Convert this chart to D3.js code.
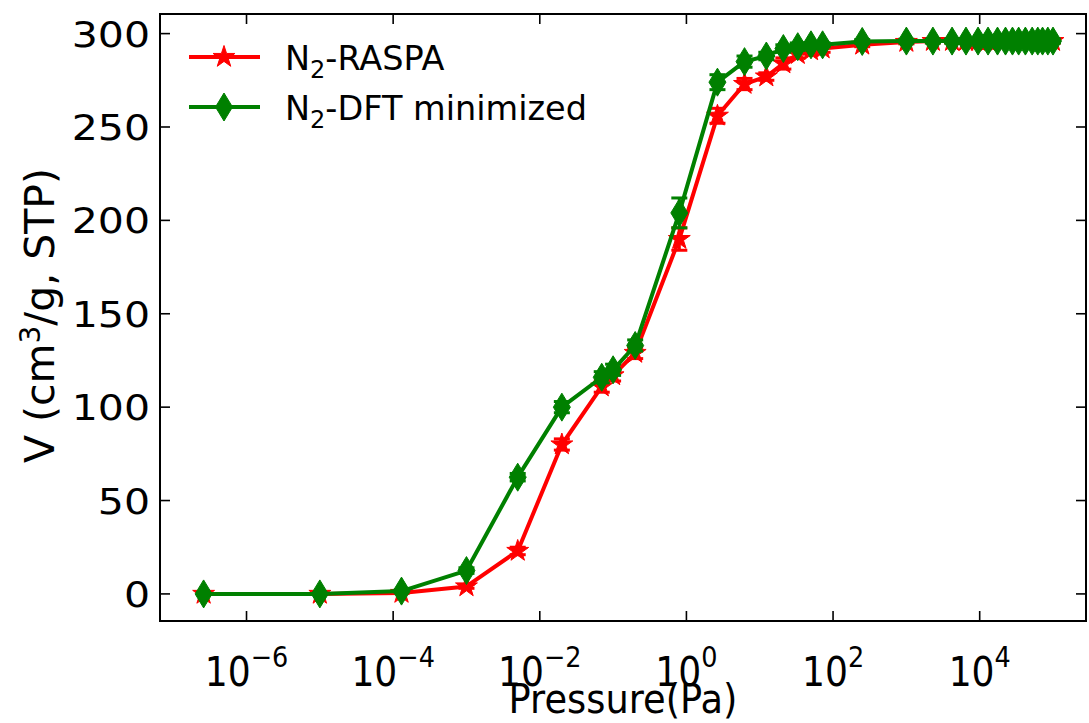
<!DOCTYPE html>
<html>
<head>
<meta charset="utf-8">
<script src="https://d3js.org/d3.v7.min.js"></script>
<style>
html,body{margin:0;padding:0;background:#fff;}
svg{display:block;}
text{font-family:"DejaVu Sans",sans-serif;fill:#000;}
</style>
</head>
<body>
<svg id="chart" width="1089" height="723"></svg>
<script>
// ---- data ----
const pressure = [2.6e-7, 1e-5, 1.3e-4, 1e-3, 5e-3, 2e-2, 7e-2, 1e-1, 2e-1, 8e-1, 2.65, 6.2, 12.3, 21, 33, 50, 72,
  250, 1000, 2300, 4200, 6500, 9500, 13000, 17500, 22500, 28000, 34000, 42000, 52000, 62000, 72000, 85000, 100000];
const raspaV = [0, 0, 0.5, 4, 23, 80, 111, 117, 129, 190, 256, 273, 277, 284, 289, 291, 292,
  294, 295.5, 296, 296, 296, 296, 296, 296, 296, 296, 296, 296, 296, 296, 296, 296, 296];
const raspaErr = [0, 0, 0.3, 1, 2, 3, 3, 3, 3, 6, 4, 3, 2, 3, 2, 2, 2,
  1, 1, 1, 1, 1, 1, 1, 1, 1, 1, 1, 1, 1, 1, 1, 1, 1];
const dftV = [0, 0, 1.5, 12.5, 62.5, 100, 116, 120, 133, 204, 274, 285, 288, 292, 293, 294, 294,
  295.8, 296, 296, 296, 296, 296, 296, 296, 296, 296, 296, 296, 296, 296, 296, 296, 296];
const dftErr = [0, 0, 0.5, 1.5, 2, 3, 3, 3, 3, 8, 4, 3, 2, 2, 2, 1, 1,
  1, 1, 1, 1, 1, 1, 1, 1, 1, 1, 1, 1, 1, 1, 1, 1, 1];
const xTickExps = [-6, -4, -2, 0, 2, 4];
const yTicks = [0, 50, 100, 150, 200, 250, 300];
const seriesNames = ["N2-RASPA", "N2-DFT minimized"];
const seriesColors = ["#ff0000", "#008000"];

// ---- layout ----
const L = 160, R = 1086, T = 14, B = 621;
const svg = d3.select("#chart");
const x = d3.scaleLog().domain([Math.pow(10, -7.18), Math.pow(10, 5.45)]).range([L, R]);
const y = d3.scaleLinear().domain([-14.5, 310.5]).range([B, T]);

const series = [
  {name: seriesNames[0], v: raspaV, e: raspaErr, color: seriesColors[0], marker: "star"},
  {name: seriesNames[1], v: dftV, e: dftErr, color: seriesColors[1], marker: "diamond"}
];

function starPath(Ro) {
  const Ri = Ro * 0.382;
  const pts = [];
  for (let i = 0; i < 10; i++) {
    const r = i % 2 === 0 ? Ro : Ri;
    const a = -Math.PI / 2 + i * Math.PI / 5;
    pts.push([r * Math.cos(a), r * Math.sin(a)]);
  }
  return "M" + pts.map(p => p[0].toFixed(2) + "," + p[1].toFixed(2)).join("L") + "Z";
}
function diamondPath(w, h) {
  return `M0,${-h/2}L${w/2},0L0,${h/2}L${-w/2},0Z`;
}
const markerPath = {star: starPath(11.5), diamond: diamondPath(17, 28)};

const plot = svg.append("g");
const line = d3.line().x((d, i) => x(pressure[i])).y(d => y(d));

series.forEach(s => {
  const g = plot.append("g");
  g.append("path").attr("d", line(s.v)).attr("fill", "none")
    .attr("stroke", s.color).attr("stroke-width", 4).attr("stroke-linejoin", "round");
  const eb = g.append("g").attr("stroke", s.color).attr("stroke-width", 3);
  s.v.forEach((v, i) => {
    if (s.e[i] <= 0) return;
    const px = x(pressure[i]);
    eb.append("line").attr("x1", px).attr("x2", px).attr("y1", y(v - s.e[i])).attr("y2", y(v + s.e[i]));
    [v - s.e[i], v + s.e[i]].forEach(c => {
      eb.append("line").attr("x1", px - 8).attr("x2", px + 8).attr("y1", y(c)).attr("y2", y(c));
    });
  });
  g.selectAll("path.m").data(s.v).enter().append("path").attr("class", "m")
    .attr("d", markerPath[s.marker])
    .attr("transform", (d, i) => `translate(${x(pressure[i])},${y(d)})`)
    .attr("fill", s.color).attr("stroke", s.color).attr("stroke-width", 1);
});

// ---- frame & ticks ----
const axes = svg.append("g");
axes.append("rect").attr("x", L).attr("y", T).attr("width", R - L).attr("height", B - T)
  .attr("fill", "none").attr("stroke", "#000").attr("stroke-width", 2);
const tickLen = 10;
xTickExps.forEach(e => {
  const px = x(Math.pow(10, e));
  axes.append("line").attr("x1", px).attr("x2", px).attr("y1", B).attr("y2", B - tickLen).attr("stroke", "#000").attr("stroke-width", 1.6);
  axes.append("line").attr("x1", px).attr("x2", px).attr("y1", T).attr("y2", T + tickLen).attr("stroke", "#000").attr("stroke-width", 1.6);
  const t = axes.append("text").attr("transform", `translate(${px},686) scale(0.88,1)`)
    .attr("text-anchor", "middle").attr("font-size", 41);
  t.append("tspan").text("10");
  t.append("tspan").attr("dy", -19).attr("font-size", 29).text((e < 0 ? "\u2212" : "") + Math.abs(e));
});
yTicks.forEach(v => {
  const py = y(v);
  axes.append("line").attr("x1", L).attr("x2", L + tickLen).attr("y1", py).attr("y2", py).attr("stroke", "#000").attr("stroke-width", 1.6);
  axes.append("line").attr("x1", R).attr("x2", R - tickLen).attr("y1", py).attr("y2", py).attr("stroke", "#000").attr("stroke-width", 1.6);
  axes.append("text").attr("transform", `translate(150,${py + 13}) scale(1.14,1)`).attr("text-anchor", "end")
    .attr("font-size", 36).text(v);
});

// axis labels
svg.append("text").attr("transform", `translate(${(L + R) / 2},713) scale(0.92,1)`).attr("text-anchor", "middle")
  .attr("font-size", 40).text("Pressure(Pa)");
const yl = svg.append("text").attr("transform", `translate(54,${(T + B) / 2 - 2}) rotate(-90)`)
  .attr("text-anchor", "middle").attr("font-size", 41);
yl.append("tspan").text("V (cm");
yl.append("tspan").attr("dy", -14).attr("font-size", 28).text("3");
yl.append("tspan").attr("dy", 14).text("/g, STP)");

// legend
const leg = svg.append("g");
series.forEach((s, i) => {
  const ly = 57 + i * 50;
  leg.append("line").attr("x1", 189).attr("x2", 260).attr("y1", ly).attr("y2", ly)
    .attr("stroke", s.color).attr("stroke-width", 4);
  leg.append("path").attr("d", markerPath[s.marker]).attr("transform", `translate(224,${ly})`)
    .attr("fill", s.color).attr("stroke", s.color);
  const t = leg.append("text").attr("x", 285).attr("y", ly + 13).attr("font-size", 33.5);
  const parts = s.name.split("2");
  t.append("tspan").text(parts[0]);
  t.append("tspan").attr("dy", 8).attr("font-size", 24).text("2");
  t.append("tspan").attr("dy", -8).text(parts.slice(1).join("2"));
});
</script>
</body>
</html>
